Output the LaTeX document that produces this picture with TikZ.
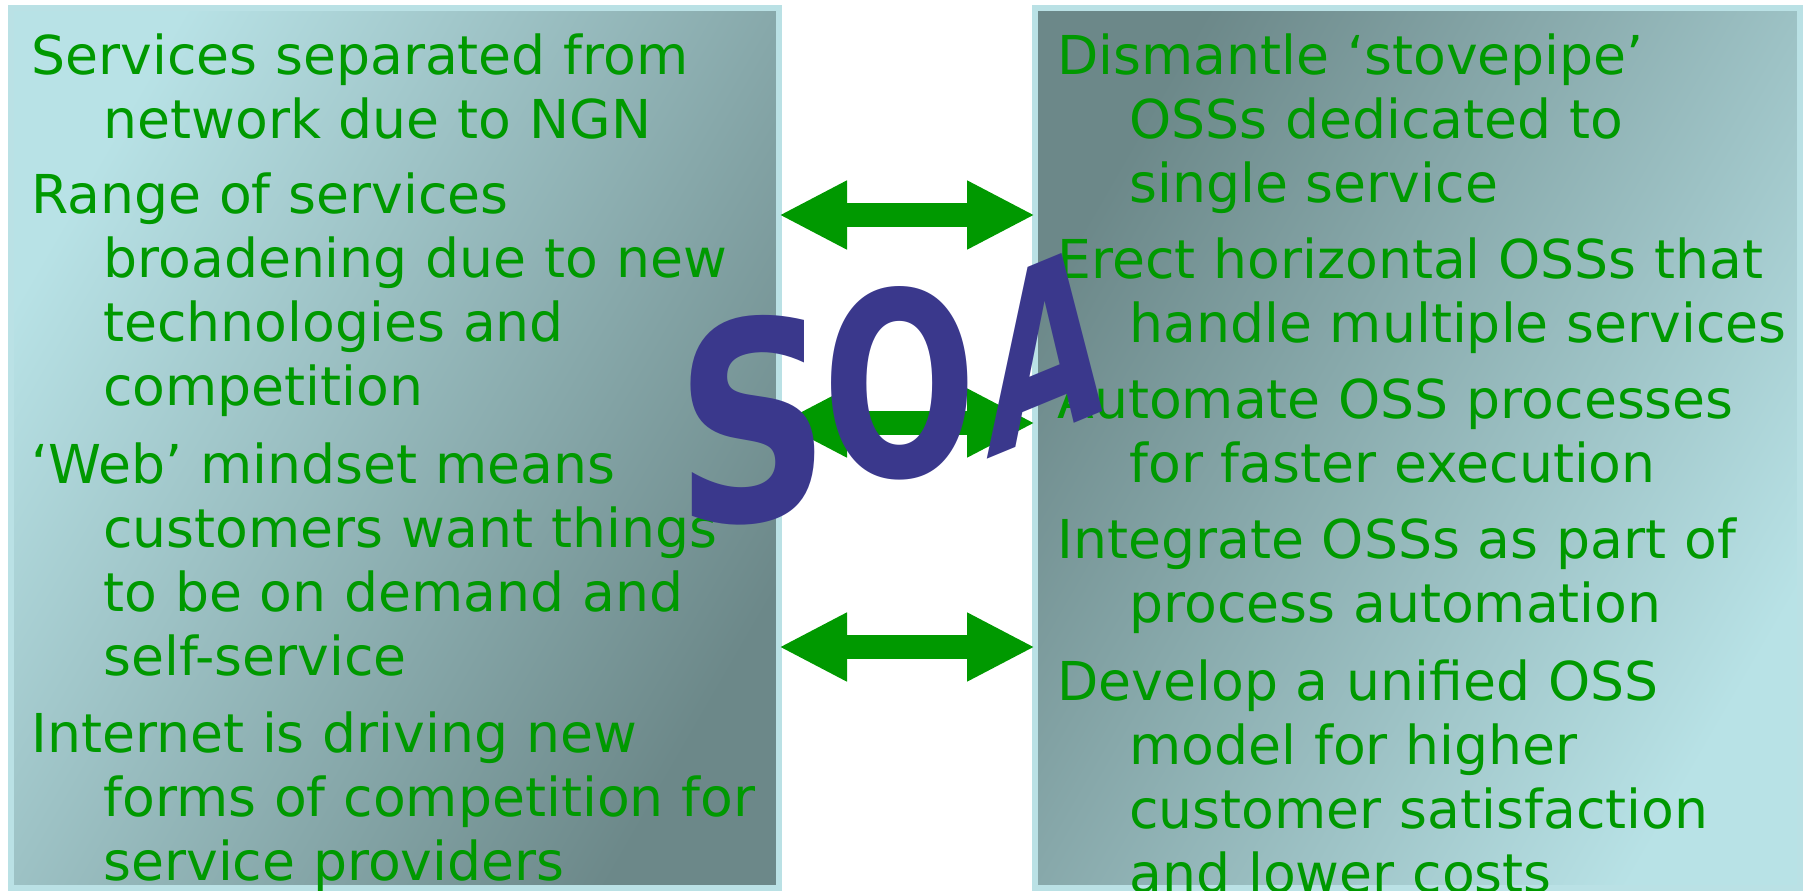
\documentclass[tikz,border=0pt]{standalone}
\usepackage{fontspec}
\setmainfont{DejaVu Sans}
\usetikzlibrary{arrows.meta}
\definecolor{boxlight}{RGB}{184,226,230}
\definecolor{boxdark}{RGB}{108,136,137}
\definecolor{boxedge}{RGB}{186,225,229}
\definecolor{txtgreen}{RGB}{0,153,0}
\definecolor{soablue}{RGB}{58,56,140}
\begin{document}
\begin{tikzpicture}[x=0.5pt,y=-0.5pt,
  panel/.style={draw=boxedge, line width=3pt, minimum height=440pt, inner sep=0pt, outer sep=0pt},
  para/.style={anchor=base west, inner sep=0pt, text width=380pt, align=left, text=txtgreen,
    font=\fontsize{26.8pt}{32pt}\selectfont},
  bigarrow/.style={draw=txtgreen, line width=12pt,
    {Triangle[length=34pt,width=32pt]}-{Triangle[length=34pt,width=32pt]}},
  soa/.style={inner sep=0pt, text=soablue}
]
\useasboundingbox (0,0) rectangle (1803,890);
% panels
\node[panel, minimum width=384pt, top color=boxlight, bottom color=boxdark, shading angle=60] (L) at (395,448) {};
\node[panel, minimum width=382.5pt, top color=boxdark, bottom color=boxlight, shading angle=60] (R) at (1417.5,448) {};
% left texts
\node[para] (l1) at (31,74) {Services separated from\\\hspace*{36pt}network due to NGN};
\node[para] (l2) at (31,213) {Range of services\\\hspace*{36pt}broadening due to new\\\hspace*{36pt}technologies and\\\hspace*{36pt}competition};
\node[para] (l3) at (31,483) {‘Web’ mindset means\\\hspace*{36pt}customers want things\\\hspace*{36pt}to be on demand and\\\hspace*{36pt}self-service};
\node[para] (l4) at (31,752) {Internet is driving new\\\hspace*{36pt}forms of competition for\\\hspace*{36pt}service providers};
% right texts
\node[para] (r1) at (1057,74) {Dismantle ‘stovepipe’\\\hspace*{36pt}OSSs dedicated to\\\hspace*{36pt}single service};
\node[para] (r2) at (1057,278) {Erect horizontal OSSs that\\\hspace*{36pt}handle multiple services};
\node[para] (r3) at (1057,418) {Automate OSS processes\\\hspace*{36pt}for faster execution};
\node[para] (r4) at (1057,558) {Integrate OSSs as part of\\\hspace*{36pt}process automation};
\node[para] (r5) at (1057,700) {Develop a unified OSS\\\hspace*{36pt}model for higher\\\hspace*{36pt}customer satisfaction\\\hspace*{36pt}and lower costs};
% arrows
\draw[bigarrow] (L.east |- 0,215) -- (R.west |- 0,215);
\draw[bigarrow] (L.east |- 0,423) -- (R.west |- 0,423);
\draw[bigarrow] (L.east |- 0,647) -- (R.west |- 0,647);
% SOA
\node[soa, font=\bfseries\fontsize{138pt}{138pt}\selectfont, xscale=0.78, yslant=0.08] (S) at (753,420) {S};
\node[soa, font=\bfseries\fontsize{128pt}{128pt}\selectfont, xscale=0.71] (O) at (900,383) {O};
\node[soa, font=\bfseries\fontsize{120pt}{120pt}\selectfont, xscale=0.63, yslant=0.26] (A) at (1045,348) {A};
\end{tikzpicture}
\end{document}
